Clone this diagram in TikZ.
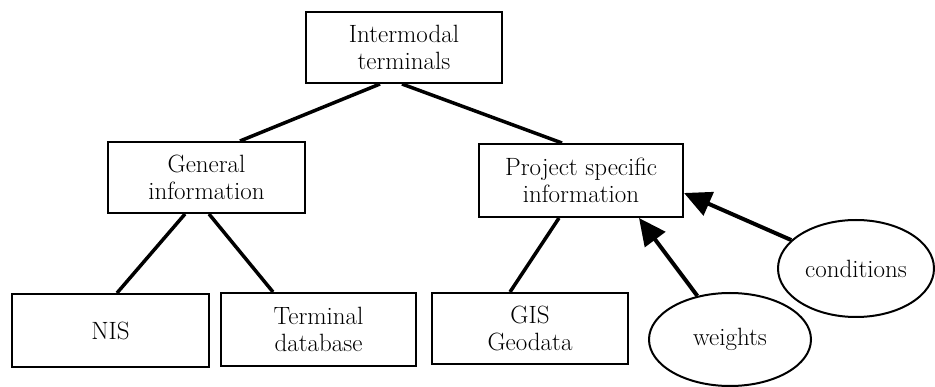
\documentclass[tikz,border=0pt]{standalone}
\usepackage{tikz}
\usetikzlibrary{arrows.meta,shapes}

\begin{document}
\begin{tikzpicture}[x=1pt, y=-1pt, font=\fontsize{25}{27}\selectfont,
	box/.style={draw, line width=2pt, align=center, inner sep=0pt},
	oval/.style={draw, ellipse, line width=2pt, inner sep=0pt},
	link/.style={line width=3.5pt},
	feed/.style={line width=4pt, -{Triangle[length=27pt,width=25pt]}}]
		\useasboundingbox (0,0) rectangle (935,387);
		% tree
		\node (top) [box, minimum width=196pt, minimum height=71pt] at (404,47.5) {Intermodal\\terminals};
		\node (gen) [box, minimum width=197pt, minimum height=71pt] at (206.5,177.5) {General\\information};
		\node (proj) [box, minimum width=204pt, minimum height=73pt] at (581,180.5) {Project specific\\information};
		\node (nis) [box, minimum width=197pt, minimum height=73pt] at (110.5,330.5) {NIS};
		\node (tdb) [box, minimum width=195pt, minimum height=73pt] at (318.5,329.5) {Terminal\\database};
		\node (gis) [box, minimum width=196pt, minimum height=71pt] at (530,328.5) {GIS\\Geodata};
		% inputs
		\node (wgt) [oval, minimum width=162pt, minimum height=93pt] at (730,339.5) {weights};
		\node (cond) [oval, minimum width=156pt, minimum height=97pt] at (856,268.5) {conditions};
		\draw [link] ([xshift=-24pt]top.south) -- ([xshift=33.5pt]gen.north);
		\draw [link] ([xshift=-2pt]top.south) -- ([xshift=-19pt]proj.north);
		\draw [link] ([xshift=-21.5pt]gen.south) -- ([xshift=6.5pt]nis.north);
		\draw [link] ([xshift=2.5pt]gen.south) -- ([xshift=-45.5pt]tdb.north);
		\draw [link] ([xshift=-22pt]proj.south) -- ([xshift=-20pt]gis.north);
		\draw [feed] (wgt) -- ([xshift=58pt]proj.south);
		\draw [feed] (cond) -- ([yshift=-12.5pt]proj.east);
	\end{tikzpicture}
\end{document}
